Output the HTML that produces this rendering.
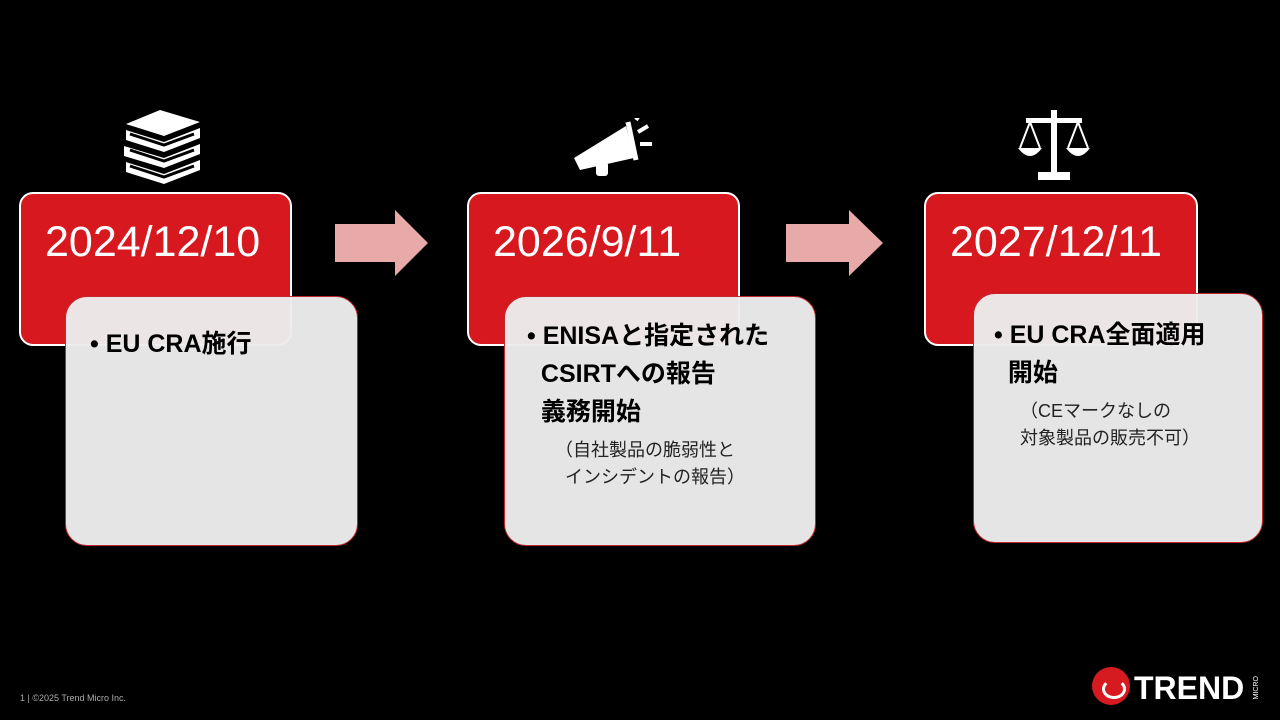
<!DOCTYPE html>
<html><head><meta charset="utf-8"><style>
body{margin:0;width:1280px;height:720px;background:#000;position:relative;overflow:hidden;font-family:"Liberation Sans","Noto Sans CJK JP",sans-serif}
.red{position:absolute;background:#d7181f;border:2px solid #fff;border-radius:14px;box-sizing:border-box;color:#fff;font-size:43px;padding-left:24px;padding-top:24px}
.gray{position:absolute;background:rgba(236,236,236,0.97);border:1.5px solid #c0282e;border-radius:22px;box-sizing:border-box;color:#000}
.b{font-weight:bold;font-size:25px;line-height:38px;position:absolute}
.s{font-size:18px;line-height:27px;position:absolute;color:#222}
.arrow{position:absolute}
</style></head><body>
<div class="red" style="left:19px;top:192px;width:273px;height:154px">2024/12/10</div>
<div class="gray" style="left:65px;top:296px;width:293px;height:250px">
<div class="b" style="left:24px;top:28px">• EU CRA施行</div></div>

<div class="red" style="left:467px;top:192px;width:273px;height:154px">2026/9/11</div>
<div class="gray" style="left:504px;top:296px;width:312px;height:250px">
<div class="b" style="left:22px;top:20px">• ENISAと指定された<br>&nbsp;&nbsp;CSIRTへの報告<br>&nbsp;&nbsp;義務開始</div>
<div class="s" style="left:50px;top:140px">（自社製品の脆弱性と<br>&nbsp;&nbsp;インシデントの報告）</div></div>

<div class="red" style="left:924px;top:192px;width:274px;height:154px">2027/12/11</div>
<div class="gray" style="left:973px;top:293px;width:290px;height:250px">
<div class="b" style="left:20px;top:22px">• EU CRA全面適用<br>&nbsp;&nbsp;開始</div>
<div class="s" style="left:46px;top:104px">（CEマークなしの<br>対象製品の販売不可）</div></div>

<svg class="arrow" style="left:335px;top:210px" width="95" height="66"><polygon points="0,14 60,14 60,0 93,33 60,66 60,52 0,52" fill="#e8a9a9"/></svg>
<svg class="arrow" style="left:786px;top:210px" width="98" height="66"><polygon points="0,14 63,14 63,0 97,33 63,66 63,52 0,52" fill="#e8a9a9"/></svg>

<svg style="position:absolute;left:120px;top:108px" width="86" height="80" fill="#fff">
<path d="M40 2 L80 14 L44 28 L6 16 Z"/><path d="M6 22 L44 34 L80 20 L80 30 L44 44 L6 32 Z" />
<path d="M4 38 L44 50 L80 36 L80 46 L44 60 L4 48 Z"/><path d="M6 54 L44 66 L80 52 L80 62 L44 76 L6 64 Z"/>
<path d="M10 26 L44 37 L74 26" stroke="#000" stroke-width="3" fill="none"/>
<path d="M10 42 L44 53 L74 42" stroke="#000" stroke-width="3" fill="none"/>
<path d="M10 58 L44 69 L74 58" stroke="#000" stroke-width="3" fill="none"/>
</svg>
<svg style="position:absolute;left:570px;top:118px" width="84" height="62" fill="#fff">
<path d="M4 40 L56 8 L64 40 L10 52 Z"/><rect x="26" y="44" width="12" height="14" rx="3"/>
<path d="M58 4 L66 42" stroke="#fff" stroke-width="5"/>
<path d="M68 14 L78 8 M70 26 L82 26 M66 2 L70 -4" stroke="#fff" stroke-width="4"/>
</svg>
<svg style="position:absolute;left:1016px;top:106px" width="76" height="76" fill="#fff">
<rect x="35" y="4" width="6" height="62"/><rect x="22" y="66" width="32" height="8"/>
<rect x="10" y="12" width="56" height="5"/>
<path d="M14 16 L4 42 M14 16 L24 42 M62 16 L52 42 M62 16 L72 42" stroke="#fff" stroke-width="2" fill="none"/>
<path d="M2 42 L26 42 Q14 58 2 42Z"/><path d="M50 42 L74 42 Q62 58 50 42Z"/>
</svg>

<div style="position:absolute;left:20px;top:693px;font-size:9px;color:#aaa">1 | ©2025 Trend Micro Inc.</div>
<div style="position:absolute;left:1092px;top:667px;width:38px;height:38px;border-radius:50%;background:#d71920"></div>
<div style="position:absolute;left:1102px;top:679px;width:18px;height:14px;border:3px solid #fff;border-radius:50%;border-top-color:transparent"></div>
<div style="position:absolute;left:1134px;top:670px;font-size:32px;font-weight:bold;color:#fff">TREND</div>
<div style="position:absolute;left:1253px;top:676px;font-size:7px;color:#fff;writing-mode:vertical-rl;transform:rotate(180deg)">MICRO</div>
</body></html>
